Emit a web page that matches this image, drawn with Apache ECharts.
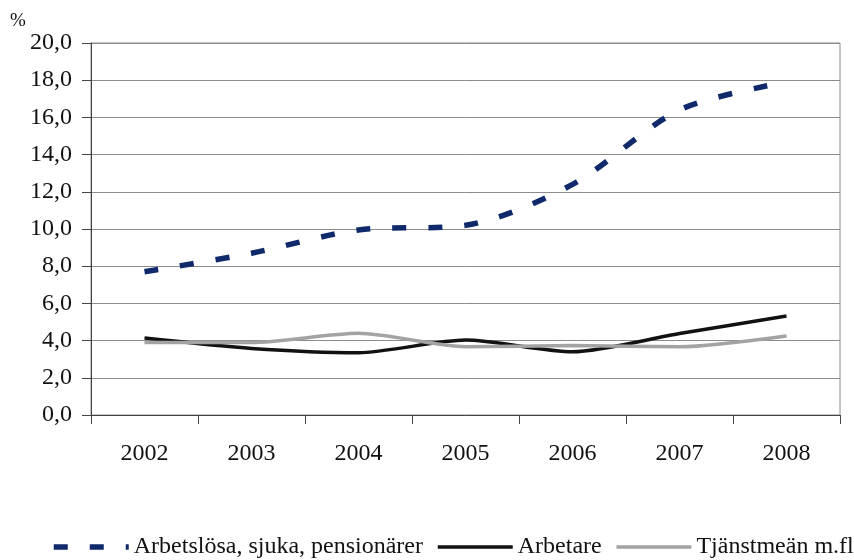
<!DOCTYPE html>
<html>
<head>
<meta charset="utf-8">
<script src="https://cdn.jsdelivr.net/npm/echarts@6/dist/echarts.min.js"></script>
<style>
html,body{margin:0;padding:0;background:#fff;}
#chart{width:854px;height:560px;}
</style>
</head>
<body>
<div id="chart"></div>
<script>
const years = ['2002','2003','2004','2005','2006','2007','2008'];
const seriesNames = ['Arbetslösa, sjuka, pensionärer','Arbetare','Tjänstmeän m.fl'];
const arbetslosa = [7.7, 8.7, 9.95, 10.2, 12.4, 16.4, 17.9];
const arbetare = [4.14, 3.58, 3.35, 4.03, 3.4, 4.38, 5.32];
const tjansteman = [3.9, 3.9, 4.39, 3.67, 3.73, 3.67, 4.25];
const yMin = 0, yMax = 20, yStep = 2;
const unitLabel = '%';

const font = 'Liberation Serif, Times New Roman, serif';
const colors = ['#10296b', '#111111', '#a3a3a3'];
const widths = [5.5, 3.5, 3.5];
const chart = echarts.init(document.getElementById('chart'));
chart.setOption({
  animation: false,
  backgroundColor: '#fff',
  textStyle: {fontFamily: font},
  grid: {left: 91, right: 14, top: 43, bottom: 145, show: true, borderColor: '#8c8c8c', borderWidth: 1},
  graphic: [{type: 'text', left: 10, top: 12, style: {text: unitLabel, font: '19px ' + font, fill: '#111'}}],
  legend: {
    left: 46, top: 530, width: 840, itemWidth: 75, itemHeight: 14, itemGap: 13,
    itemStyle: {opacity: 0},
    textStyle: {fontFamily: font, fontSize: 24, color: '#111'},
    data: seriesNames.map((n, i) => ({
      name: n,
      lineStyle: {width: widths[i], color: colors[i], type: i === 0 ? [14, 22] : 'solid', cap: 'butt'}
    }))
  },
  xAxis: {
    type: 'category', data: years, boundaryGap: true,
    axisLine: {lineStyle: {color: '#444', width: 1}},
    axisTick: {show: true, length: 9, lineStyle: {color: '#444'}},
    axisLabel: {fontFamily: font, fontSize: 24, color: '#111', margin: 27},
    splitLine: {show: false}
  },
  yAxis: {
    type: 'value', min: yMin, max: yMax, interval: yStep,
    axisLine: {show: true, lineStyle: {color: '#444', width: 1}},
    axisTick: {show: true, length: 9, lineStyle: {color: '#444'}},
    axisLabel: {fontFamily: font, fontSize: 24, color: '#111', margin: 19,
      formatter: v => v.toFixed(1).replace('.', ',')},
    splitLine: {show: true, lineStyle: {color: '#8c8c8c', width: 1}}
  },
  series: [
    {name: seriesNames[0], type: 'line', data: arbetslosa, smooth: 0.3, symbol: 'none',
      lineStyle: {color: colors[0], width: widths[0], type: [14, 22], cap: 'butt'}, itemStyle: {color: colors[0]}},
    {name: seriesNames[1], type: 'line', data: arbetare, smooth: 0.25, symbol: 'none',
      lineStyle: {color: colors[1], width: widths[1]}, itemStyle: {color: colors[1]}},
    {name: seriesNames[2], type: 'line', data: tjansteman, smooth: 0.25, symbol: 'none',
      lineStyle: {color: colors[2], width: widths[2]}, itemStyle: {color: colors[2]}}
  ]
});
</script>
</body>
</html>
